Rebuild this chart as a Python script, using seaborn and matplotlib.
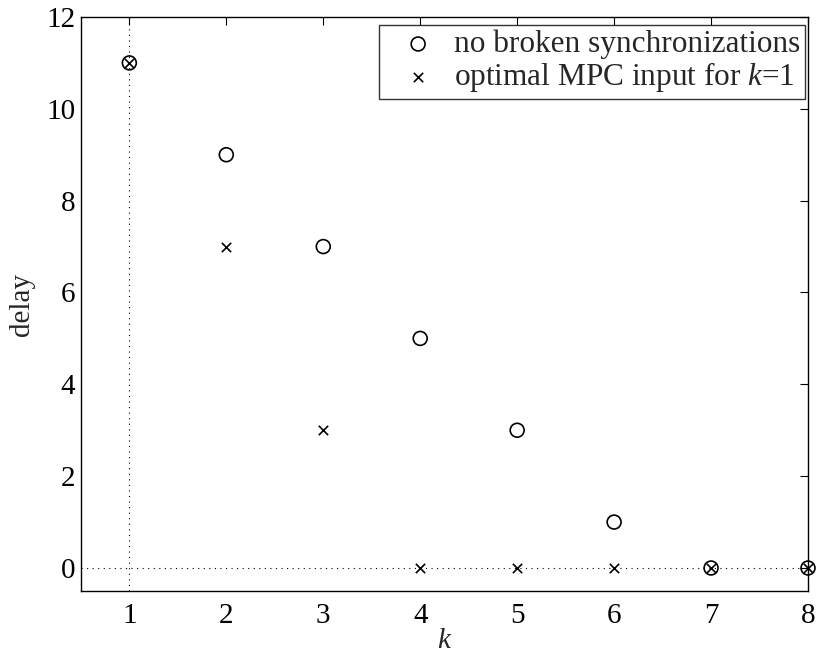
import matplotlib
matplotlib.use("Agg")
import matplotlib.pyplot as plt
import pandas as pd
import seaborn as sns

# Dados
k_values = [1, 2, 3, 4, 5, 6, 7, 8]
delay_no_broken = [11, 9, 7, 5, 3, 1, 0, 0]
delay_mpc = [11, 7, 3, 0, 0, 0, 0, 0]
x_ticks = [1, 2, 3, 4, 5, 6, 7, 8]
y_ticks = [0, 2, 4, 6, 8, 10, 12]

df = pd.DataFrame({"k": k_values, "no_broken": delay_no_broken, "mpc": delay_mpc})

sns.set_theme(style="white")
plt.rcParams["font.family"] = ["Liberation Serif", "DejaVu Serif"]
plt.rcParams["mathtext.fontset"] = "custom"
plt.rcParams["mathtext.it"] = "Liberation Serif:italic"
plt.rcParams["mathtext.rm"] = "Liberation Serif"

fig = plt.figure(figsize=(8.17, 6.53), dpi=100)
ax = fig.add_axes([0.099, 0.095, 0.890, 0.879])

# Linhas pontilhadas de referência
ax.axvline(1, color="black", linestyle=(0, (1, 4)), linewidth=0.8, zorder=1)
ax.axhline(0, color="black", linestyle=(0, (1, 4)), linewidth=0.8, zorder=1)

sns.scatterplot(data=df, x="k", y="no_broken", ax=ax, marker="o", s=100,
                facecolor="none", edgecolor="black", linewidth=1.2,
                label="no broken synchronizations", zorder=3, clip_on=False)
sns.scatterplot(data=df, x="k", y="mpc", ax=ax, marker="x", s=45,
                color="black", linewidth=1.2,
                label="optimal MPC input for $k$=1", zorder=3, clip_on=False)

ax.set_xlim(0.5, 8)
ax.set_ylim(-0.5, 12)
ax.set_xticks(x_ticks)
ax.set_yticks(y_ticks)
ax.tick_params(direction="in", top=True, right=True, length=6, width=0.8,
               labelsize=21, colors="black")
ax.tick_params(axis="x", pad=9)
ax.tick_params(axis="y", pad=4)
for sp in ax.spines.values():
    sp.set_color("black")
    sp.set_linewidth(1.0)

ax.set_xlabel("$k$", fontsize=21, labelpad=-1)
ax.set_ylabel("delay", fontsize=21, labelpad=8)

leg = ax.legend(loc="upper right", bbox_to_anchor=(805 / 817, 1 - 25 / 653),
                bbox_transform=fig.transFigure, borderaxespad=0,
                fontsize=22.5, frameon=True, fancybox=False, edgecolor="black",
                handlelength=2.2, handletextpad=0.05, borderpad=0.15,
                labelspacing=0.02)
leg.get_frame().set_linewidth(1.0)

plt.savefig("out.png", dpi=100)
plt.close()
